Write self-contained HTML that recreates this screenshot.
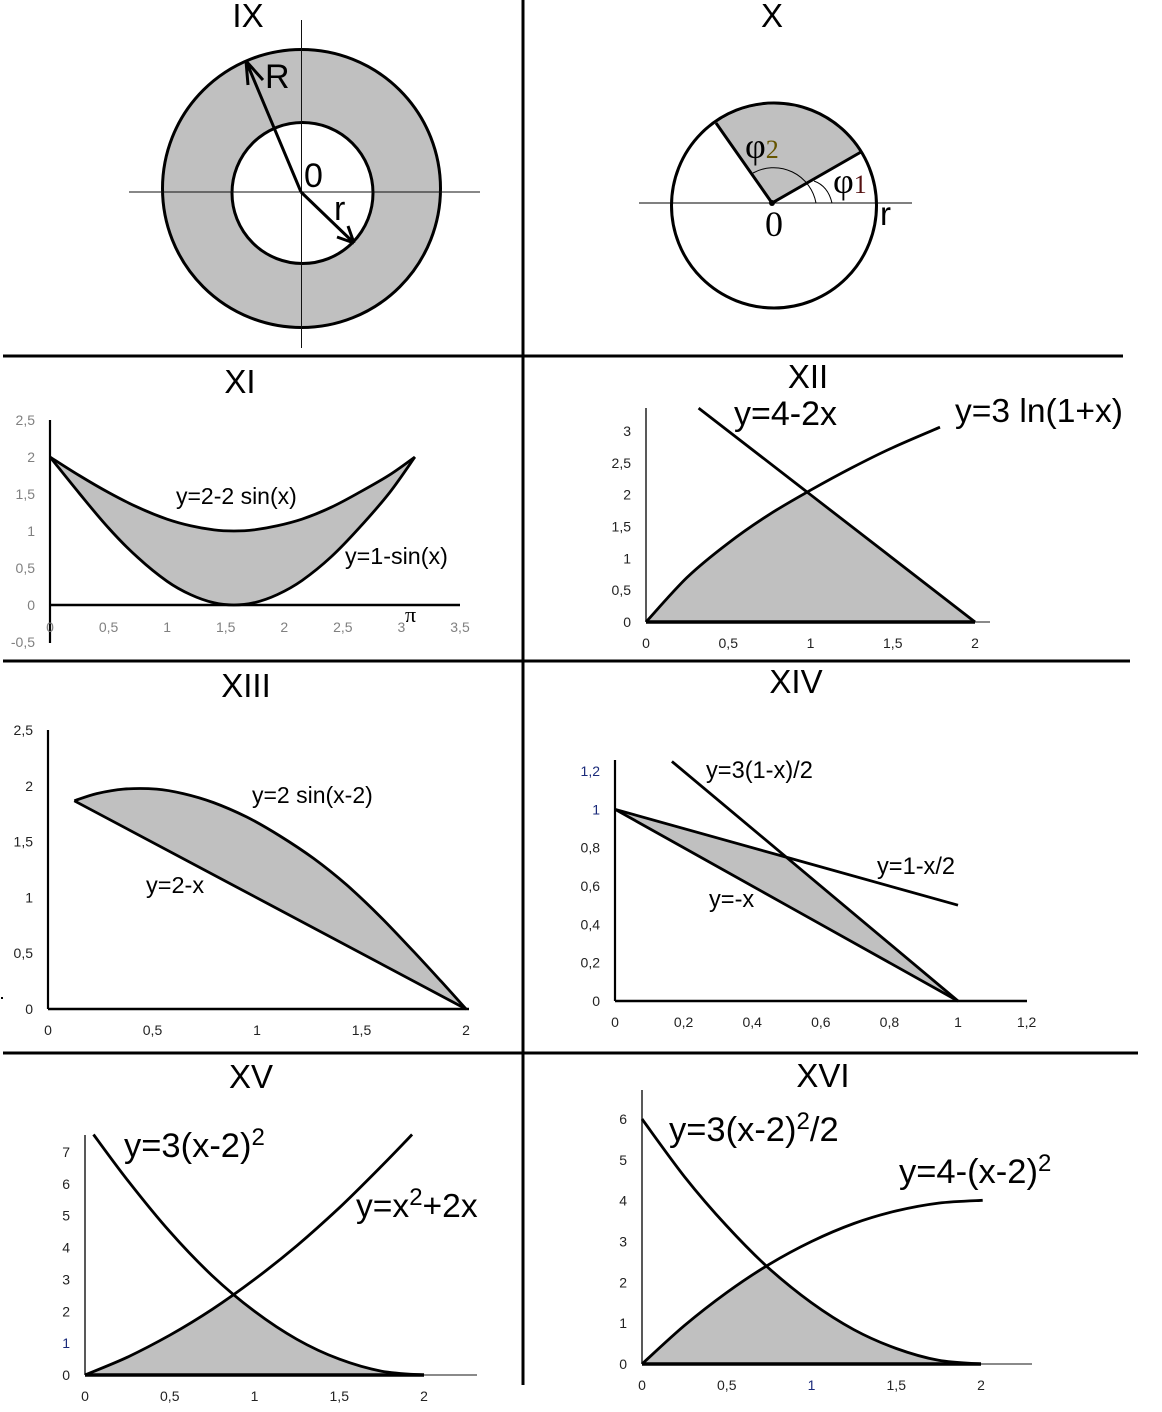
<!DOCTYPE html>
<html lang="en">
<head>
<meta charset="utf-8">
<title>Integration regions IX to XVI</title>
<style>
html,body{margin:0;padding:0;background:#fff;}
svg{display:block;}
text{font-family:"Liberation Sans",sans-serif;fill:#000;}
.title{font-size:33px;text-anchor:middle;}
.big{font-size:33.6px;}
.mid{font-size:23.6px;}
.serif{font-family:"Liberation Serif",serif;}
</style>
</head>
<body>
<svg id="sheet" width="1162" height="1412" viewBox="0 0 1162 1412" xmlns="http://www.w3.org/2000/svg">
<rect x="0" y="0" width="1162" height="1412" fill="#fff"/>

<g stroke="#000" stroke-width="3">
<line x1="523" y1="0" x2="523" y2="1385"/>
<line x1="3" y1="356" x2="1123" y2="356"/>
<line x1="3" y1="661" x2="1130" y2="661"/>
<line x1="3" y1="1053" x2="1138" y2="1053"/>
</g>
<rect x="1" y="997" width="2" height="2" fill="#000"/>

<g>
<text class="title" x="248" y="27">IX</text>
<circle cx="301.500" cy="188.500" r="139" fill="#c0c0c0" stroke="#000" stroke-width="3"/>
<circle cx="302.500" cy="193" r="70.500" fill="#fff" stroke="#000" stroke-width="3"/>
<line x1="129" y1="192" x2="480" y2="192" stroke="#111" stroke-width="1"/>
<line x1="301.500" y1="20" x2="301.500" y2="348" stroke="#111" stroke-width="1"/>
<path d="M301,192L246,61M248,85L246,61M263,80L246,61" fill="none" stroke="#000" stroke-width="3"/>
<path d="M301,192L354,243M337,237L354,243M348,226L354,243" fill="none" stroke="#000" stroke-width="3"/>
<text x="265" y="88" style="font-size:34px">R</text>
<text x="304" y="187" style="font-size:34px">0</text>
<text x="334" y="220" style="font-size:34px">r</text>
</g>

<g>
<text class="title" x="772" y="27">X</text>
<path d="M772,203L716,123A102.500,102.500,0,0,1,861,152Z" fill="#c0c0c0"/>
<circle cx="774" cy="205.500" r="102.500" fill="none" stroke="#000" stroke-width="3"/>
<path d="M716,123L772,203L861,152" fill="none" stroke="#000" stroke-width="3"/>
<line x1="639" y1="203" x2="912" y2="203" stroke="#000" stroke-width="1"/>
<circle cx="772" cy="203" r="3" fill="#000"/>
<path d="M832,203Q828,186 814,181" fill="none" stroke="#000" stroke-width="1"/>
<path d="M816,203A43,43,0,0,0,753,173" fill="none" stroke="#000" stroke-width="1"/>
<text class="serif" x="745" y="158" style="font-size:36px">φ<tspan style="font-size:26px;fill:#665500">2</tspan></text>
<text class="serif" x="833" y="193" style="font-size:36px">φ<tspan style="font-size:26px;fill:#551111">1</tspan></text>
<text class="serif" x="765" y="236" style="font-size:36px">0</text>
<text x="880" y="225" style="font-size:33px">r</text>
</g>

<g id="panel-xi">
<text class="title" x="240" y="393">XI</text>
</g>
<g id="panel-xii">
<text class="title" x="808" y="388">XII</text>
</g>
<g id="panel-xiii">
<text class="title" x="246" y="697">XIII</text>
</g>
<g id="panel-xiv">
<text class="title" x="796" y="693">XIV</text>
</g>
<g id="panel-xv">
<text class="title" x="251" y="1088">XV</text>
</g>
<g id="panel-xvi">
<text class="title" x="823" y="1087">XVI</text>
</g>

<g id="annotations">
<text x="176" y="504" style="font-size:23px">y=2-2 sin(x)</text>
<text x="345" y="564" style="font-size:23.300px">y=1-sin(x)</text>
<text class="serif" x="405" y="622" style="font-size:22px">π</text>
<text class="big" x="734" y="425" style="font-size:34px">y=4-2x</text>
<text class="big" x="955" y="422">y=3 ln(1+x)</text>
<text x="252" y="803" style="font-size:23px">y=2 sin(x-2)</text>
<text x="146" y="893" style="font-size:23.500px">y=2-x</text>
<text class="mid" x="706" y="778">y=3(1-x)/2</text>
<text class="mid" x="877" y="874">y=1-x/2</text>
<text class="mid" x="709" y="907">y=-x</text>
<text class="big" x="124" y="1157" style="font-size:34.500px">y=3(x-2)<tspan dy="-12" style="font-size:24px">2</tspan></text>
<text class="big" x="356" y="1217">y=x<tspan dy="-12" style="font-size:24px">2</tspan><tspan dy="12">+2x</tspan></text>
<text class="big" x="669" y="1141" style="font-size:34.500px">y=3(x-2)<tspan dy="-12" style="font-size:24px">2</tspan><tspan dy="12">/2</tspan></text>
<text class="big" x="899" y="1183" style="font-size:34.500px">y=4-(x-2)<tspan dy="-12" style="font-size:24px">2</tspan></text>
</g>
</svg>

<script>
// Panel XI
const xiX = [0, 0.25, 0.5, 0.75, 1, 1.2, 1.4, 1.57, 1.74, 1.94, 2.15, 2.4, 2.65, 2.9, 3.115];
const xiUpper = [2, 1.75, 1.52, 1.32, 1.16, 1.07, 1.015, 1, 1.015, 1.07, 1.16, 1.32, 1.53, 1.76, 2];
const xiLower = [2, 1.51, 1.04, 0.64, 0.32, 0.14, 0.03, 0, 0.03, 0.14, 0.33, 0.65, 1.06, 1.52, 2];
const xiXTicks = [0, 0.5, 1, 1.5, 2, 2.5, 3, 3.5];
const xiYTicks = [-0.5, 0, 0.5, 1, 1.5, 2, 2.5];
// Panel XII
const xiiLineX = [0.32, 1, 2];
const xiiLineY = [3.36, 2, 0];
const xiiLogX = [0, 0.25, 0.5, 0.75, 1, 1.25, 1.5, 1.787];
const xiiLogY = [0, 0.7, 1.24, 1.69, 2.07, 2.42, 2.74, 3.06];
const xiiXTicks = [0, 0.5, 1, 1.5, 2];
const xiiYTicks = [0, 0.5, 1, 1.5, 2, 2.5, 3];
// Panel XIII
const xiiiCurveX = [0.126, 0.233, 0.361, 0.52, 0.647, 0.791, 0.951, 1.11, 1.27, 1.43, 1.59, 1.75, 1.88, 2];
const xiiiCurveY = [1.866, 1.93, 1.97, 1.97, 1.93, 1.85, 1.72, 1.55, 1.35, 1.11, 0.827, 0.513, 0.25, 0];
const xiiiLineX = [0.126, 2];
const xiiiLineY = [1.866, 0];
const xiiiXTicks = [0, 0.5, 1, 1.5, 2];
const xiiiYTicks = [0, 0.5, 1, 1.5, 2, 2.5];
// Panel XIV
const xivHalfX = [0, 1];
const xivHalfY = [1, 0.5];
const xivSteepX = [0.166, 1];
const xivSteepY = [1.25, 0];
const xivBaseX = [0, 1];
const xivBaseY = [1, 0];
const xivXTicks = [0, 0.2, 0.4, 0.6, 0.8, 1, 1.2];
const xivYTicks = [0, 0.2, 0.4, 0.6, 0.8, 1, 1.2];
// Panel XV
const xvFallX = [0.05, 0.25, 0.5, 0.75, 1, 1.25, 1.5, 1.75, 2];
const xvFallY = [7.55, 6.12, 4.5, 3.12, 2, 1.12, 0.5, 0.12, 0];
const xvRiseX = [0, 0.25, 0.5, 0.75, 1, 1.25, 1.5, 1.75, 1.93];
const xvRiseY = [0, 0.56, 1.25, 2.06, 3, 4.06, 5.25, 6.56, 7.55];
const xvXTicks = [0, 0.5, 1, 1.5, 2];
const xvYTicks = [0, 1, 2, 3, 4, 5, 6, 7];
// Panel XVI
const xviFallX = [0, 0.25, 0.5, 0.75, 1, 1.25, 1.5, 1.75, 2];
const xviFallY = [6, 4.59, 3.38, 2.34, 1.5, 0.84, 0.38, 0.09, 0];
const xviRiseX = [0, 0.25, 0.5, 0.75, 1, 1.25, 1.5, 1.75, 2.01];
const xviRiseY = [0, 0.94, 1.75, 2.44, 3, 3.44, 3.75, 3.94, 4.01];
const xviXTicks = [0, 0.5, 1, 1.5, 2];
const xviYTicks = [0, 1, 2, 3, 4, 5, 6];

const NS = 'http://www.w3.org/2000/svg';

function make(parent, tag, props) {
  const el = document.createElementNS(NS, tag);
  for (const k in props) el.setAttribute(k, props[k]);
  parent.appendChild(el);
  return el;
}

function linearScale(v0, p0, v1, p1) {
  return function (v) { return p0 + (v - v0) * (p1 - p0) / (v1 - v0); };
}

function interp(xs, ys, x) {
  let i = 0;
  while (i < xs.length - 2 && x > xs[i + 1]) i++;
  return ys[i] + (ys[i + 1] - ys[i]) * (x - xs[i]) / (xs[i + 1] - xs[i]);
}

function smoothPath(pts) {
  let d = 'M' + pts[0][0].toFixed(1) + ',' + pts[0][1].toFixed(1);
  for (let i = 0; i < pts.length - 1; i++) {
    const a = pts[Math.max(i - 1, 0)], b = pts[i], c = pts[i + 1], e = pts[Math.min(i + 2, pts.length - 1)];
    const c1x = b[0] + (c[0] - a[0]) / 6, c1y = b[1] + (c[1] - a[1]) / 6;
    const c2x = c[0] - (e[0] - b[0]) / 6, c2y = c[1] - (e[1] - b[1]) / 6;
    d += 'C' + c1x.toFixed(1) + ',' + c1y.toFixed(1) + ' ' + c2x.toFixed(1) + ',' + c2y.toFixed(1) + ' ' + c[0].toFixed(1) + ',' + c[1].toFixed(1);
  }
  return d;
}

function tickText(v) {
  return String(v).replace('.', ',');
}

function drawCurve(group, sx, sy, xs, ys, name) {
  const pts = xs.map(function (x, i) { return [sx(x), sy(ys[i])]; });
  const el = make(group, 'path', { d: smoothPath(pts), fill: 'none', stroke: '#000', 'stroke-width': 2.8, 'stroke-linejoin': 'round' });
  
  
}

function drawRegion(group, sx, sy, from, to, upperFn, lowerFn, name) {
  const top = [], bottom = [];
  const steps = 240;
  for (let i = 0; i <= steps; i++) {
    const x = from + (to - from) * i / steps;
    top.push(sx(x).toFixed(1) + ',' + sy(upperFn(x)).toFixed(1));
    bottom.unshift(sx(x).toFixed(1) + ',' + sy(lowerFn(x)).toFixed(1));
  }
  const el = make(group, 'polygon', { points: top.concat(bottom).join(' '), fill: '#c0c0c0' });
  
  
}

function drawAxes(group, o) {
  const xAxis = make(group, 'line', { x1: o.x0, y1: o.yAxisLevel, x2: o.xEnd, y2: o.yAxisLevel, stroke: o.thinX ? '#444' : '#000', 'stroke-width': o.thinX ? 1.3 : 2.4 });
  
  
  const yAxis = make(group, 'line', { x1: o.x0, y1: o.yTop, x2: o.x0, y2: o.yBottom, stroke: o.thinX ? '#222' : '#000', 'stroke-width': o.thinX ? 1.5 : 2.2 });
  
  
  if (o.thickTo !== undefined) {
    const base = make(group, 'line', { x1: o.x0, y1: o.yAxisLevel, x2: o.sx(o.thickTo), y2: o.yAxisLevel, stroke: '#000', 'stroke-width': 3.4 });
    
    
  }
  o.xTicks.forEach(function (v) {
    const t = make(group, 'text', { x: o.sx(v), y: o.xLabelY, 'text-anchor': 'middle', 'dominant-baseline': 'central' });
    
    
    t.style.fontSize = o.size + 'px';
    t.style.fill = (o.blueX || []).indexOf(v) >= 0 ? '#1a2a7a' : o.color;
    t.textContent = tickText(v);
  });
  o.yTicks.forEach(function (v) {
    const t = make(group, 'text', { x: o.yLabelX, y: o.sy(v), 'text-anchor': 'end', 'dominant-baseline': 'central' });
    
    
    t.style.fontSize = o.size + 'px';
    t.style.fill = (o.blueY || []).indexOf(v) >= 0 ? '#1a2a7a' : o.color;
    t.textContent = tickText(v);
  });
}

// Panel XI
(function () {
  const g = document.getElementById('panel-xi');
  const sx = linearScale(0, 50, 3.5, 460), sy = linearScale(0, 605, 2, 457);
  drawRegion(g, sx, sy, 0, 3.115, function (x) { return interp(xiX, xiUpper, x); }, function (x) { return interp(xiX, xiLower, x); }, 'shaded-region');
  drawAxes(g, { sx: sx, sy: sy, x0: 50, xEnd: 460, yAxisLevel: 605, yTop: 420, yBottom: 643, xTicks: xiXTicks, yTicks: xiYTicks, xLabelY: 627, yLabelX: 35, size: 14, color: '#808080' });
  drawCurve(g, sx, sy, xiX, xiUpper, 'curve-upper');
  drawCurve(g, sx, sy, xiX, xiLower, 'curve-lower');
})();

// Panel XII
(function () {
  const g = document.getElementById('panel-xii');
  const sx = linearScale(0, 646, 2, 975), sy = linearScale(0, 622, 3, 431);
  drawRegion(g, sx, sy, 0, 2, function (x) { return Math.min(interp(xiiLineX, xiiLineY, x), interp(xiiLogX, xiiLogY, x)); }, function () { return 0; }, 'shaded-region');
  drawAxes(g, { sx: sx, sy: sy, x0: 646, xEnd: 990, yAxisLevel: 622, yTop: 408, yBottom: 622, xTicks: xiiXTicks, yTicks: xiiYTicks, xLabelY: 643, yLabelX: 631, size: 14, color: '#222', thinX: true, thickTo: 2 });
  drawCurve(g, sx, sy, xiiLineX, xiiLineY, 'line-4-minus-2x');
  drawCurve(g, sx, sy, xiiLogX, xiiLogY, 'curve-3-ln');
})();

// Panel XIII
(function () {
  const g = document.getElementById('panel-xiii');
  const sx = linearScale(0, 48, 2, 466), sy = linearScale(0, 1009, 2.5, 730);
  drawRegion(g, sx, sy, 0.126, 2, function (x) { return interp(xiiiCurveX, xiiiCurveY, x); }, function (x) { return interp(xiiiLineX, xiiiLineY, x); }, 'shaded-region');
  drawAxes(g, { sx: sx, sy: sy, x0: 48, xEnd: 469, yAxisLevel: 1009, yTop: 730, yBottom: 1009, xTicks: xiiiXTicks, yTicks: xiiiYTicks, xLabelY: 1030, yLabelX: 33, size: 14, color: '#222' });
  drawCurve(g, sx, sy, xiiiCurveX, xiiiCurveY, 'curve-2-sin');
  drawCurve(g, sx, sy, xiiiLineX, xiiiLineY, 'line-2-minus-x');
})();

// Panel XIV
(function () {
  const g = document.getElementById('panel-xiv');
  const sx = linearScale(0, 615, 1, 958), sy = linearScale(0, 1001, 1.2, 771);
  drawRegion(g, sx, sy, 0, 1, function (x) { return Math.min(interp(xivHalfX, xivHalfY, x), interp(xivSteepX, xivSteepY, x)); }, function (x) { return interp(xivBaseX, xivBaseY, x); }, 'shaded-region');
  drawAxes(g, { sx: sx, sy: sy, x0: 615, xEnd: 1027, yAxisLevel: 1001, yTop: 760, yBottom: 1001, xTicks: xivXTicks, yTicks: xivYTicks, xLabelY: 1022, yLabelX: 600, size: 14, color: '#222', blueY: [1, 1.2] });
  drawCurve(g, sx, sy, xivHalfX, xivHalfY, 'line-1-minus-half-x');
  drawCurve(g, sx, sy, xivSteepX, xivSteepY, 'line-steep');
  drawCurve(g, sx, sy, xivBaseX, xivBaseY, 'line-minus-x');
})();

// Panel XV
(function () {
  const g = document.getElementById('panel-xv');
  const sx = linearScale(0, 85, 2, 424), sy = linearScale(0, 1375, 7, 1152);
  drawRegion(g, sx, sy, 0, 2, function (x) { return Math.min(interp(xvFallX, xvFallY, x), interp(xvRiseX, xvRiseY, x)); }, function () { return 0; }, 'shaded-region');
  drawAxes(g, { sx: sx, sy: sy, x0: 85, xEnd: 477, yAxisLevel: 1375, yTop: 1135, yBottom: 1375, xTicks: xvXTicks, yTicks: xvYTicks, xLabelY: 1396, yLabelX: 70, size: 14, color: '#222', blueY: [1], thinX: true, thickTo: 2 });
  drawCurve(g, sx, sy, xvFallX, xvFallY, 'curve-falling');
  drawCurve(g, sx, sy, xvRiseX, xvRiseY, 'curve-rising');
})();

// Panel XVI
(function () {
  const g = document.getElementById('panel-xvi');
  const sx = linearScale(0, 642, 2, 981), sy = linearScale(0, 1364, 6, 1119);
  drawRegion(g, sx, sy, 0, 2, function (x) { return Math.min(interp(xviFallX, xviFallY, x), interp(xviRiseX, xviRiseY, x)); }, function () { return 0; }, 'shaded-region');
  drawAxes(g, { sx: sx, sy: sy, x0: 642, xEnd: 1032, yAxisLevel: 1364, yTop: 1090, yBottom: 1364, xTicks: xviXTicks, yTicks: xviYTicks, xLabelY: 1385, yLabelX: 627, size: 14, color: '#222', blueX: [1], thinX: true, thickTo: 2 });
  drawCurve(g, sx, sy, xviFallX, xviFallY, 'curve-falling');
  drawCurve(g, sx, sy, xviRiseX, xviRiseY, 'curve-rising');
})();
</script>
</body>
</html>
